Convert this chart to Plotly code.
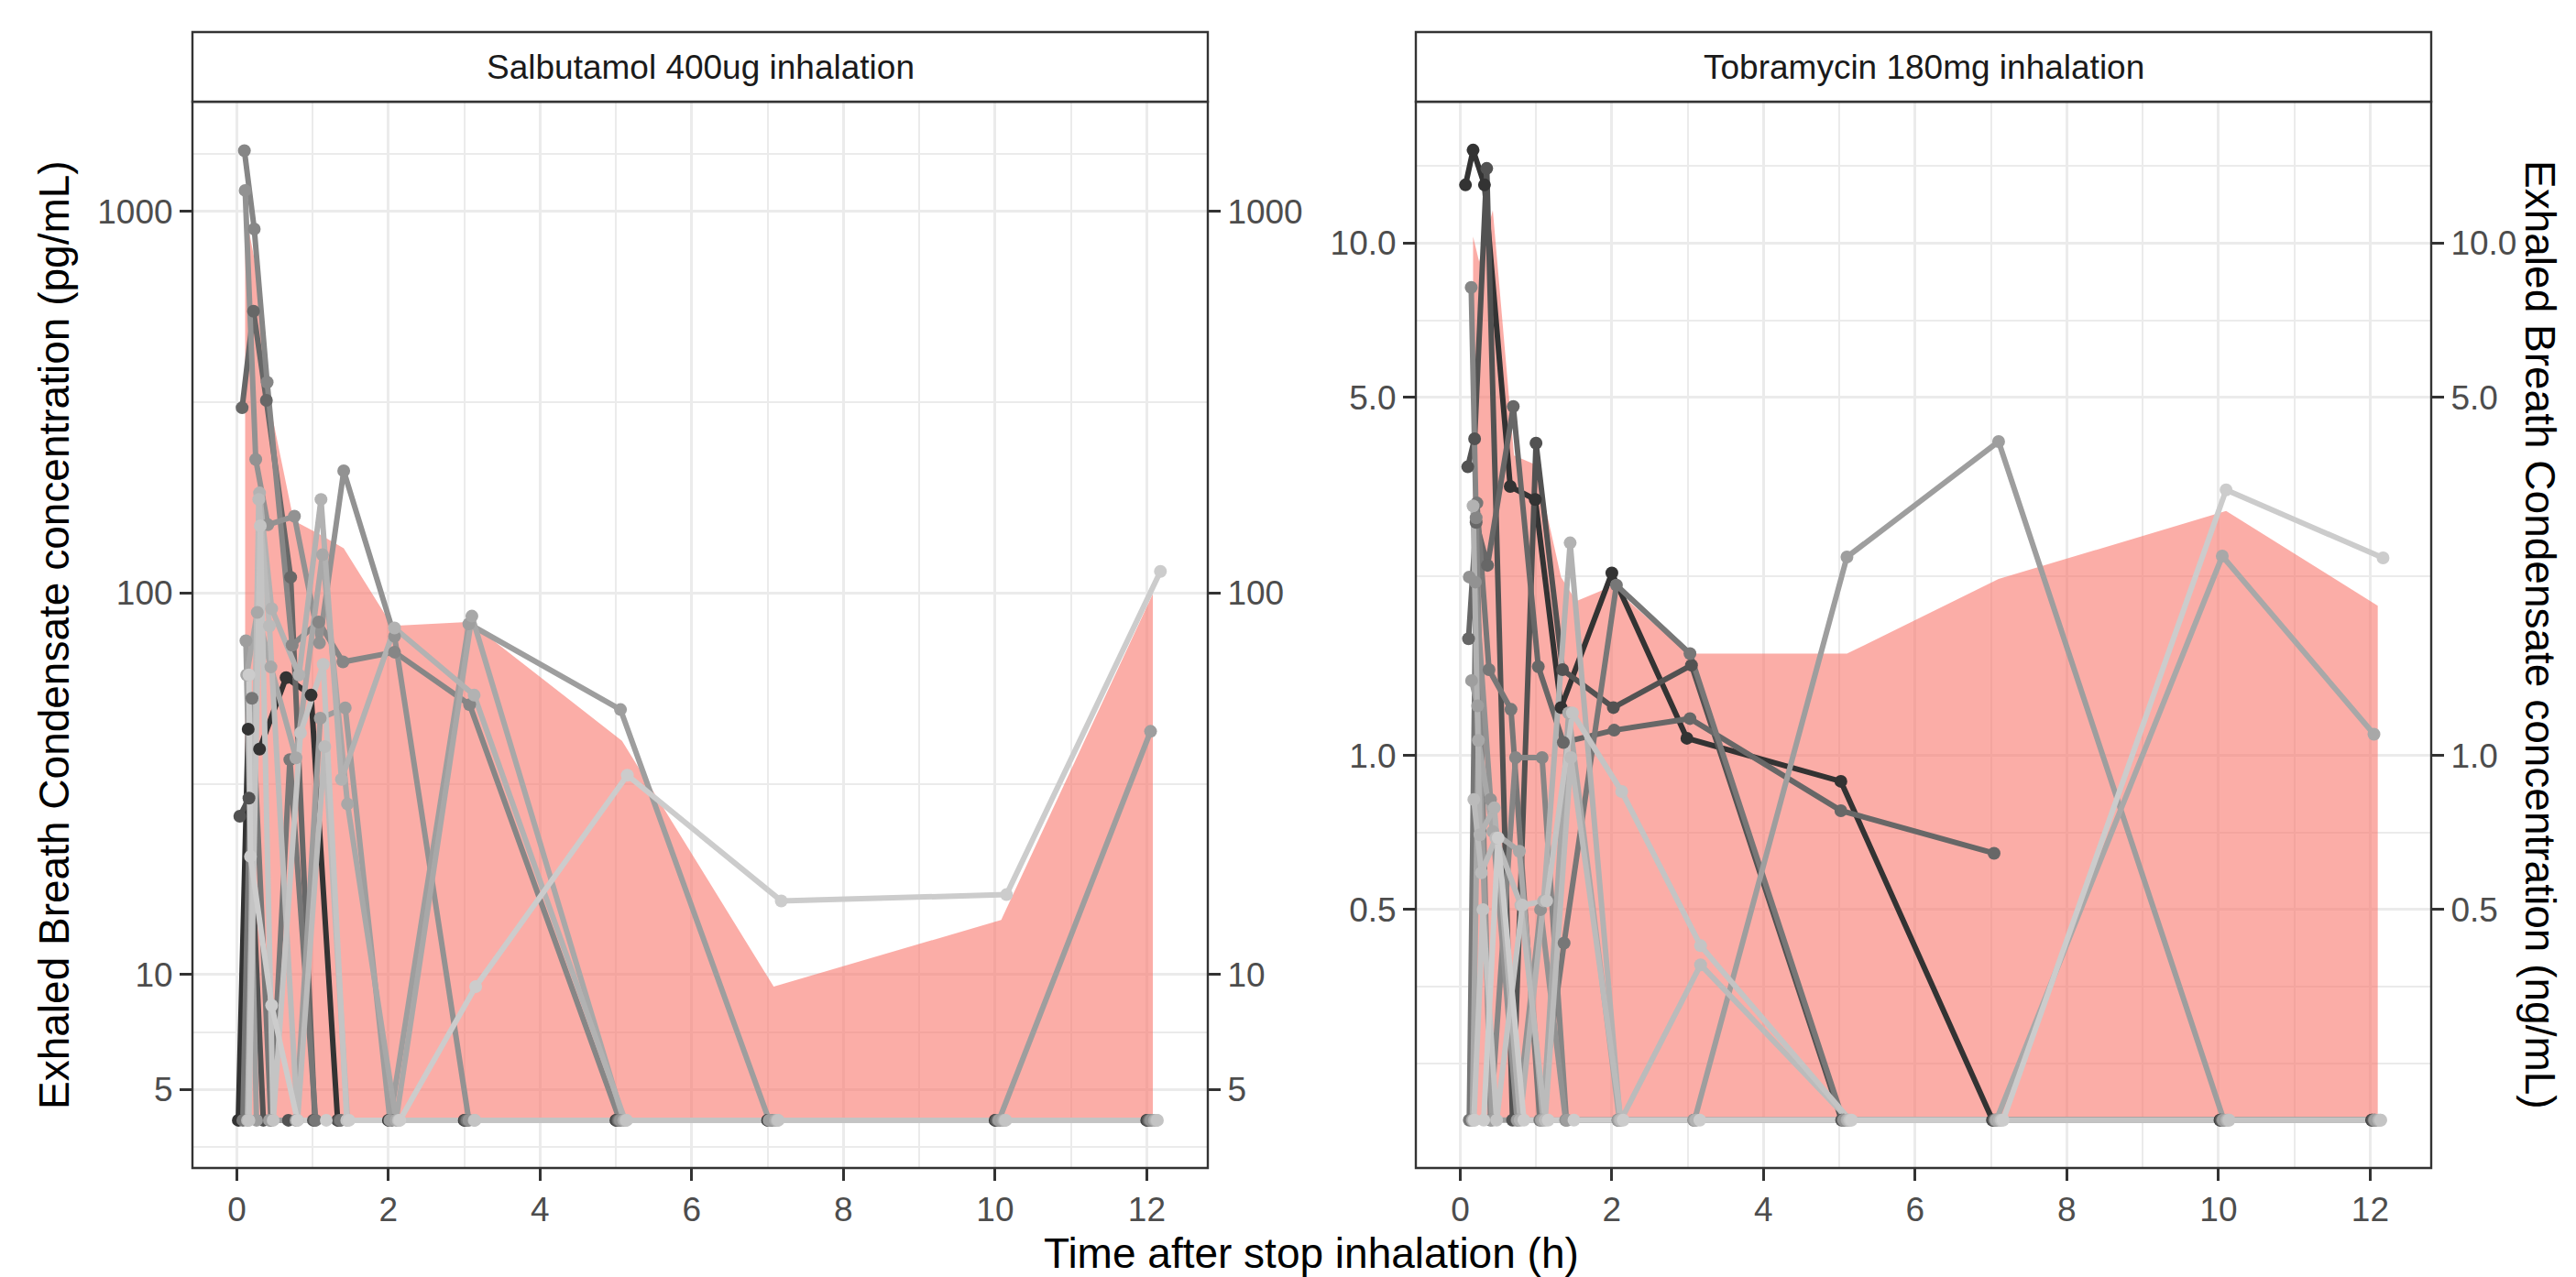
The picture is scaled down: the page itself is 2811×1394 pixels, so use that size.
import plotly.graph_objects as go

# values below the limit of quantification are drawn at the bottom of each panel
BLQ_SAL = 4.15
BLQ_TOB = 0.194
B = None  # placeholder, replaced per panel below

SUBJECT_GREYS = ["#333333", "#525252", "#676767", "#777777", "#868686", "#929292",
                 "#9E9E9E", "#A8A8A8", "#B2B2B2", "#BBBBBB", "#C4C4C4", "#CCCCCC"]

# Salbutamol 400ug (pg/mL), one list per subject
SAL_TIMES = [
    [0.02, 0.15, 0.30, 0.65, 0.98, 1.33, 2.00, 3.00, 5.00, 7.00, 10.00, 12.00],
    [0.04, 0.16, 0.35, 0.68, 1.01, 1.34, 2.01, 3.01, 5.01, 7.01, 10.01, 12.01],
    [0.07, 0.22, 0.39, 0.71, 1.03, 1.36, 2.03, 3.03, 5.03, 7.03, 10.03, 12.03],
    [0.08, 0.20, 0.45, 0.70, 1.04, 1.37, 2.04, 3.04, 5.04, 7.04, 10.04, 12.04],
    [0.10, 0.23, 0.40, 0.73, 1.08, 1.40, 2.08, 3.07, 5.05, 7.05, 10.05, 12.05],
    [0.11, 0.25, 0.41, 0.76, 1.09, 1.41, 2.08, 3.06, 5.06, 7.06, 10.06, 12.06],
    [0.12, 0.26, 0.43, 0.78, 1.10, 1.43, 2.02, 3.06, 5.06, 7.02, 10.05, 12.05],
    [0.13, 0.27, 0.45, 0.78, 1.13, 1.46, 2.10, 3.10, 5.10, 7.10, 10.10, 12.10],
    [0.14, 0.30, 0.46, 0.82, 1.11, 1.38, 2.08, 3.13, 5.12, 7.12, 10.12, 12.12],
    [0.15, 0.29, 0.43, 0.80, 1.16, 1.46, 2.13, 3.13, 5.13, 7.13, 10.13, 12.13],
    [0.16, 0.31, 0.48, 0.84, 1.14, 1.45, 2.14, 3.14, 5.14, 7.14, 10.14, 12.14],
    [0.16, 0.18, 0.46, 0.80, 1.18, 1.48, 2.15, 3.15, 5.15, 7.18, 10.15, 12.18],
]
SAL_CONC = [
    [B, 44, 39, 60, 54, B, B, B, B, B, B, B],
    [26, 29, B, B, B, B, B, B, B, B, B, B],
    [306, 548, 320, 110, B, B, B, B, B, B, B, B],
    [B, 53, B, 36.6, B, B, B, B, B, B, B, B],
    [1444, 900, 357, 73, 84, 66, 70, 51, B, B, B, B],
    [1136, 224, 151, 159, 74, 209, 77, B, B, B, B, B],
    [75, B, B, B, 47, 50, B, 83, 49.5, B, B, 43.4],
    [61, 89, 64, 37, 126, 28, B, 87, B, B, B, B],
    [B, 183, 91, 61, 176, 32.5, 81, 54, B, B, B, B],
    [B, 176, 82, B, 39.6, B, B, B, B, B, B, B],
    [B, 150, B, 43, 65, B, B, B, B, B, B, B],
    [61, 20.4, 8.3, B, B, B, B, 9.3, 33.3, 15.6, 16.2, 114],
]
SAL_RIBBON_T = [0.11, 0.25, 0.41, 0.75, 1.08, 1.41, 2.05, 3.07, 5.08, 7.08, 10.08, 12.08]
SAL_RIBBON_HI = [1000, 720, 330, 155, 143, 131, 82, 84, 41, 9.3, 13.9, 99.5]

# Tobramycin 180mg (ng/mL)
TOB_TIMES = [
    [0.07, 0.17, 0.32, 0.66, 0.99, 1.33, 2.00, 2.99, 5.02, 7.02, 10.02, 12.02],
    [0.10, 0.19, 0.35, 0.69, 1.00, 1.35, 2.02, 3.05, 5.03, 7.03, 10.03, 12.03],
    [0.11, 0.21, 0.36, 0.70, 1.03, 1.36, 2.03, 3.03, 5.02, 7.04],
    [0.12, 0.22, 0.38, 0.67, 1.05, 1.37, 2.06, 3.03, 5.05, 7.05, 10.05, 12.05],
    [0.145, 0.21, 0.40, 0.73, 1.08, 1.40, 2.08, 3.08, 5.06, 7.06, 10.06, 12.06],
    [0.12, 0.20, 0.40, 0.75, 1.06, 1.39, 2.08, 3.08, 5.06, 7.06, 10.06, 12.06],
    [0.15, 0.23, 0.42, 0.76, 1.07, 1.41, 2.09, 3.09, 5.10, 7.10, 10.07, 12.07],
    [0.16, 0.24, 0.43, 0.78, 1.09, 1.43, 2.10, 3.10, 5.10, 7.07, 10.05, 12.05],
    [0.17, 0.26, 0.45, 0.79, 1.10, 1.45, 2.11, 3.11, 5.11, 7.11, 10.11, 12.11],
    [0.18, 0.28, 0.47, 0.80, 1.12, 1.46, 2.12, 3.17, 5.13, 7.13, 10.13, 12.13],
    [0.18, 0.30, 0.48, 0.82, 1.14, 1.48, 2.13, 3.17, 5.14, 7.14, 10.14, 12.14],
    [0.19, 0.31, 0.50, 0.84, 1.16, 1.50, 2.15, 3.16, 5.16, 7.16, 10.10, 12.17],
]
TOB_CONC = [
    [13.0, 15.2, 13.0, 3.35, 3.16, 1.24, 2.27, 1.08, 0.89, B, B, B],
    [3.66, 4.15, 14.0, B, 4.07, 1.47, 1.24, 1.50, B, B, B, B],
    [1.69, 2.85, 2.35, 4.8, 1.49, 1.06, 1.12, 1.18, 0.78, 0.644],
    [B, 3.11, 1.47, 1.23, B, 0.43, 2.15, 1.58, B, B, B, B],
    [8.2, 2.91, B, 0.99, 0.99, B, B, B, B, B, B, B],
    [2.23, 2.18, 0.82, B, 0.50, B, B, B, B, B, B, B],
    [1.40, 1.25, B, B, B, B, B, B, 2.44, 4.1, B, B],
    [B, 1.07, 0.71, 0.65, B, 1.21, B, B, B, B, 2.45, 1.1],
    [3.07, 0.70, 0.79, B, 0.52, 2.6, B, B, B, B, B, B],
    [0.82, 0.59, 0.69, 0.51, B, 0.99, B, 0.39, B, B, B, B],
    [B, 0.50, B, 0.51, 0.52, 1.21, 0.85, 0.425, B, B, B, B],
    [B, B, 0.69, B, B, B, B, B, B, B, 3.3, 2.43],
]
TOB_RIBBON_T = [0.17, 0.25, 0.43, 0.71, 1.0, 1.33, 1.53, 2.0, 3.0, 5.1, 7.1, 10.1, 12.1]
TOB_RIBBON_HI = [10.3, 9.2, 11.6, 3.85, 3.69, 2.23, 2.0, 2.14, 1.58, 1.58, 2.21, 3.0, 1.96]

X_TICKS = [0, 2, 4, 6, 8, 10, 12]
X_MINOR = [1, 3, 5, 7, 9, 11]
SAL_YTICKS = [5, 10, 100, 1000]
SAL_YLABELS = ["5", "10", "100", "1000"]
SAL_YMINOR = [3.53, 7.07, 31.6, 316, 1413]
TOB_YTICKS = [0.5, 1, 5, 10]
TOB_YLABELS = ["0.5", "1.0", "5.0", "10.0"]
TOB_YMINOR = [0.25, 0.3536, 0.7071, 2.236, 7.071, 14.14]

FONT = "Liberation Sans, Arial, sans-serif"
W, H = 2811, 1394

# panel boxes in pixels (left, right), shared top/bottom
PANELS = [(210, 1318), (1545, 2653)]
P_TOP, P_BOT, STRIP_TOP = 111, 1275, 35


def px(x):
    return x / W


def py(y):
    return 1 - y / H


fig = go.Figure()


def add_panel(xref, yref, yref_dup, times, conc, blq, rib_t, rib_hi):
    # red ribbon from the BLQ level up to the upper bound
    poly_x = rib_t + rib_t[::-1]
    poly_y = rib_hi + [blq for _ in rib_t]
    fig.add_trace(go.Scatter(x=poly_x, y=poly_y, fill="toself", mode="lines",
                             line=dict(width=0), fillcolor="rgba(248,118,109,0.6)",
                             hoverinfo="skip", showlegend=False, xaxis=xref, yaxis=yref))
    for k, (t, v) in enumerate(zip(times, conc)):
        y = [blq if c is None else c for c in v]
        fig.add_trace(go.Scatter(x=t, y=y, mode="lines",
                                 line=dict(color=SUBJECT_GREYS[k], width=6),
                                 showlegend=False, xaxis=xref, yaxis=yref))
    for k, (t, v) in enumerate(zip(times, conc)):
        y = [blq if c is None else c for c in v]
        fig.add_trace(go.Scatter(x=t, y=y, mode="markers",
                                 marker=dict(color=SUBJECT_GREYS[k], size=14),
                                 showlegend=False, xaxis=xref, yaxis=yref))
    # empty trace so the duplicated right-hand axis gets drawn
    fig.add_trace(go.Scatter(x=[], y=[], mode="markers", showlegend=False,
                             hoverinfo="skip", xaxis=xref, yaxis=yref_dup))


add_panel("x", "y", "y3", SAL_TIMES, SAL_CONC, BLQ_SAL, SAL_RIBBON_T, SAL_RIBBON_HI)
add_panel("x2", "y2", "y4", TOB_TIMES, TOB_CONC, BLQ_TOB, TOB_RIBBON_T, TOB_RIBBON_HI)

tickfont = dict(family=FONT, size=37, color="#4D4D4D")
grid = dict(showgrid=True, gridcolor="#EBEBEB", gridwidth=2.7, zeroline=False,
            ticks="outside", ticklen=13, tickwidth=2.5, tickcolor="#333333",
            tickfont=tickfont, showline=False)

ydom = [py(P_BOT), py(P_TOP)]


def xaxis(i, anchor):
    l, r = PANELS[i]
    return dict(domain=[px(l), px(r)], range=[-0.585, 12.805], anchor=anchor,
                tickmode="array", tickvals=X_TICKS,
                minor=dict(tickmode="array", tickvals=X_MINOR, showgrid=True,
                           gridcolor="#EBEBEB", gridwidth=1.5, ticks=""),
                **grid)


def yaxis(anchor, rng, vals, labels, minor, side="left", overlay=None):
    d = dict(type="log", range=rng, anchor=anchor, side=side,
             tickmode="array", tickvals=vals, ticktext=labels, **grid)
    if overlay:
        d.update(overlaying=overlay, showgrid=False)
    else:
        d.update(domain=ydom, minor=dict(tickmode="array", tickvals=minor, showgrid=True,
                                         gridcolor="#EBEBEB", gridwidth=1.5, ticks=""))
    return d


SAL_RANGE = [0.493, 3.288]
TOB_RANGE = [-0.8056, 1.2764]

fig.update_layout(
    width=W, height=H, autosize=False,
    margin=dict(l=0, r=0, t=0, b=0),
    paper_bgcolor="white", plot_bgcolor="white",
    xaxis=xaxis(0, "y"),
    xaxis2=xaxis(1, "y2"),
    yaxis=yaxis("x", SAL_RANGE, SAL_YTICKS, SAL_YLABELS, SAL_YMINOR),
    yaxis2=yaxis("x2", TOB_RANGE, TOB_YTICKS, TOB_YLABELS, TOB_YMINOR),
    yaxis3=yaxis("x", SAL_RANGE, SAL_YTICKS, SAL_YLABELS, None, side="right", overlay="y"),
    yaxis4=yaxis("x2", TOB_RANGE, TOB_YTICKS, TOB_YLABELS, None, side="right", overlay="y2"),
    showlegend=False,
)

# panel borders and strips
shapes = []
for l, r in PANELS:
    shapes.append(dict(type="rect", xref="paper", yref="paper",
                       x0=px(l), x1=px(r), y0=py(P_BOT), y1=py(P_TOP),
                       line=dict(color="#333333", width=2.4), fillcolor="rgba(0,0,0,0)"))
    shapes.append(dict(type="rect", xref="paper", yref="paper",
                       x0=px(l), x1=px(r), y0=py(P_TOP), y1=py(STRIP_TOP),
                       line=dict(color="#333333", width=2.4), fillcolor="white"))
fig.update_layout(shapes=shapes)

strip_font = dict(family=FONT, size=37, color="#1A1A1A")
title_font = dict(family=FONT, size=46, color="black")
ann = [
    dict(text="Salbutamol 400ug inhalation", x=px(sum(PANELS[0]) / 2), y=py(73),
         font=strip_font),
    dict(text="Tobramycin 180mg inhalation", x=px(sum(PANELS[1]) / 2), y=py(73),
         font=strip_font),
    dict(text="Time after stop inhalation (h)", x=px(1431), y=py(1368), font=title_font),
    dict(text="Exhaled Breath Condensate concentration (pg/mL)", x=px(59), y=py(693),
         textangle=-90, font=title_font),
    dict(text="Exhaled Breath Condensate concentration (ng/mL)", x=px(2772), y=py(693),
         textangle=90, font=title_font),
]
for a in ann:
    a.update(xref="paper", yref="paper", showarrow=False, xanchor="center", yanchor="middle")
fig.update_layout(annotations=ann)

# drop the page's default body margin so the figure sits at the window origin
fig.write_html("out.html", config={"displayModeBar": False},
               post_script="document.body.style.margin='0px';")
